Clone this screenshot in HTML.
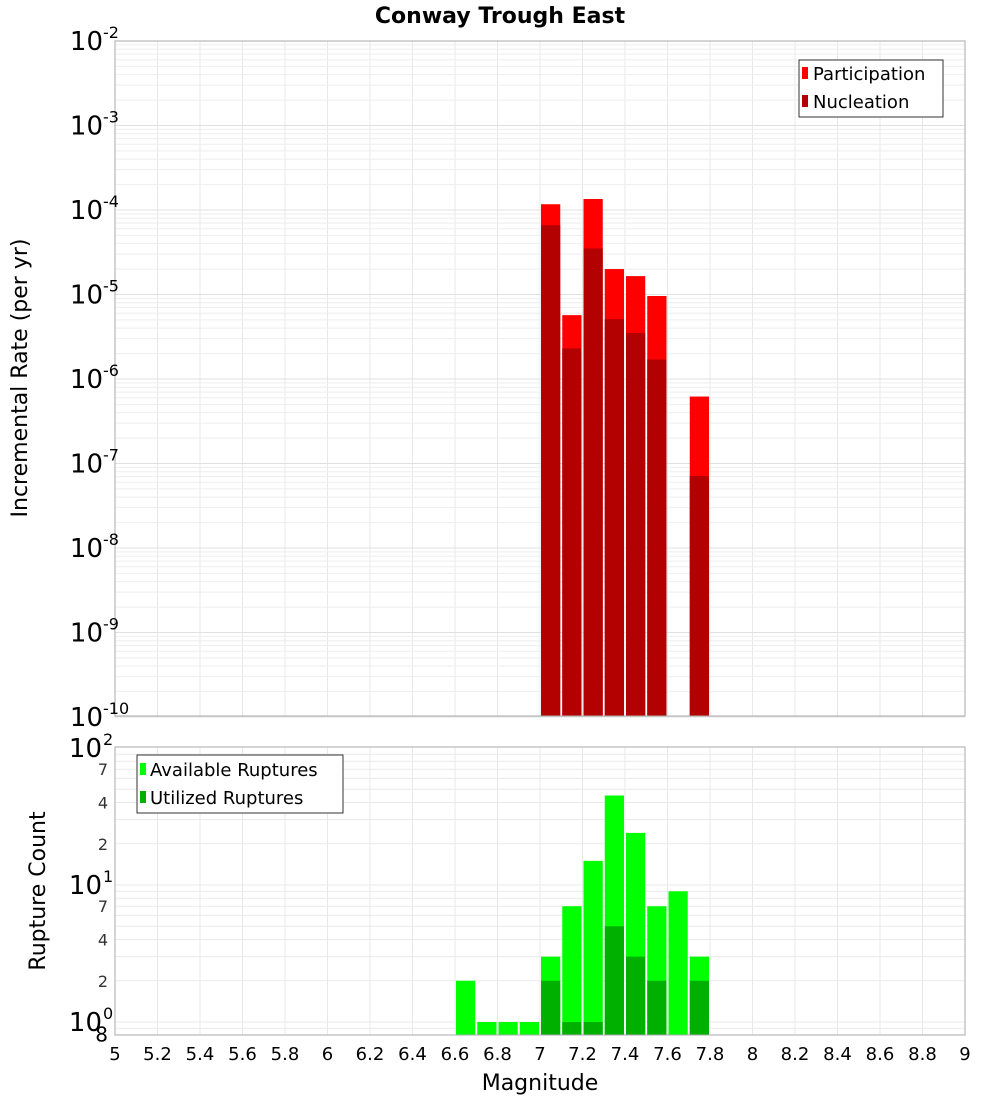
<!DOCTYPE html>
<html><head><meta charset="utf-8"><style>
body{margin:0;background:#fff;}
svg{display:block;font-family:"Liberation Sans","DejaVu Sans",sans-serif;}
</style></head><body>
<svg id="c" width="1000" height="1100" xmlns="http://www.w3.org/2000/svg">
<text x="500" y="23" text-anchor="middle" font-size="22" font-weight="bold" font-family="DejaVu Sans, sans-serif">Conway Trough East</text>
<g id="grid"></g>
<g id="bars"></g>
<g id="axes"></g>
<text transform="translate(27,378) rotate(-90)" text-anchor="middle" font-size="22" font-family="DejaVu Sans, sans-serif">Incremental Rate (per yr)</text>
<text transform="translate(45,891) rotate(-90)" text-anchor="middle" font-size="22" font-family="DejaVu Sans, sans-serif">Rupture Count</text>
<text x="540" y="1090" text-anchor="middle" font-size="22" font-family="DejaVu Sans, sans-serif">Magnitude</text>
<g>
<rect x="799" y="60" width="144" height="57" fill="#fff" stroke="#333" stroke-width="1"/>
<rect x="802" y="67" width="6" height="12" fill="#ff0000"/>
<text x="813" y="80" font-size="18" font-family="DejaVu Sans, sans-serif">Participation</text>
<rect x="802" y="95" width="6" height="12" fill="#b30000"/>
<text x="813" y="108" font-size="18" font-family="DejaVu Sans, sans-serif">Nucleation</text>
</g>
<g>
<rect x="137" y="755" width="206" height="58" fill="#fff" stroke="#333" stroke-width="1"/>
<rect x="140" y="763" width="6" height="12" fill="#00ff00"/>
<text x="150" y="776" font-size="18" font-family="DejaVu Sans, sans-serif">Available Ruptures</text>
<rect x="140" y="791" width="6" height="12" fill="#00b000"/>
<text x="150" y="804" font-size="18" font-family="DejaVu Sans, sans-serif">Utilized Ruptures</text>
</g>
</svg>
<script>
const mags=[6.65,6.75,6.85,6.95,7.05,7.15,7.25,7.35,7.45,7.55,7.65,7.75];
const participation=[0,0,0,0,1.17e-4,5.7e-6,1.35e-4,2.0e-5,1.65e-5,9.6e-6,0,6.2e-7];
const nucleation=[0,0,0,0,6.6e-5,2.3e-6,3.5e-5,5.1e-6,3.5e-6,1.7e-6,0,7.1e-8];
const available=[2,1,1,1,3,7,15,45,24,7,9,3];
const utilized=[0,0,0,0,2,1,1,5,3,2,0,2];
const xTicks=[5,5.2,5.4,5.6,5.8,6,6.2,6.4,6.6,6.8,7,7.2,7.4,7.6,7.8,8,8.2,8.4,8.6,8.8,9];
const topExps=[-2,-3,-4,-5,-6,-7,-8,-9,-10];
const botMinor=[2,4,7,20,40,70];

const NS="http://www.w3.org/2000/svg";
const L=115,R=965,T1=41,B1=716,T2=747,B2=1035;
const x=m=>L+(m-5)/4*(R-L);
const yTop=v=>T1+(-2-Math.log10(v))*84.5;
const yBot=v=>1022-Math.log10(v)*137;
function mk(tag,attrs,parent,txt){const e=document.createElementNS(NS,tag);for(const k in attrs)e.setAttribute(k,attrs[k]);if(txt!==undefined)e.textContent=txt;parent.appendChild(e);return e;}
const grid=document.getElementById('grid'),bars=document.getElementById('bars'),axes=document.getElementById('axes');
mk('rect',{x:L,y:T1,width:R-L,height:B1-T1,fill:'#fff'},grid);
// grids
xTicks.forEach(t=>{
  mk('line',{x1:x(t),x2:x(t),y1:T1,y2:B1,stroke:'#e8e8e8'},grid);
  mk('line',{x1:x(t),x2:x(t),y1:T2,y2:B2,stroke:'#e8e8e8'},grid);
});
for(let e=-10;e<-2;e++){for(let k=1;k<10;k++){const yy=yTop(k*Math.pow(10,e));mk('line',{x1:L,x2:R,y1:yy,y2:yy,stroke:k==1?'#e0e0e0':'#eeeeee'},grid);}}
for(let e=-1;e<2;e++){for(let k=1;k<10;k++){const v=k*Math.pow(10,e);const yy=yBot(v);if(yy>B2||yy<T2)continue;mk('line',{x1:L,x2:R,y1:yy,y2:yy,stroke:'#eaeaea'},grid);}}
// top bars
mags.forEach((m,i)=>{
  const x0=x(m-0.05)+1,w=x(m+0.05)-x(m-0.05)-2;
  if(participation[i]>0){const r=mk('rect',{x:x0,y:yTop(participation[i]),width:w,height:B1-yTop(participation[i]),fill:'#ff0000'},bars);
    
    }
  if(nucleation[i]>0){const r=mk('rect',{x:x0,y:yTop(nucleation[i]),width:w,height:B1-yTop(nucleation[i]),fill:'#b30000'},bars);
    
    }
  if(available[i]>0){const r=mk('rect',{x:x0,y:yBot(available[i]),width:w,height:B2-yBot(available[i]),fill:'#00ff00'},bars);
    
    }
  if(utilized[i]>0){const r=mk('rect',{x:x0,y:yBot(utilized[i]),width:w,height:B2-yBot(utilized[i]),fill:'#00b000'},bars);
    
    }
});
mk('rect',{x:L,y:T1,width:R-L,height:B1-T1,fill:'none',stroke:'#aaa'},axes);
mk('rect',{x:L,y:T2,width:R-L,height:B2-T2,fill:'none',stroke:'#aaa'},axes);
// top y labels
topExps.forEach(e=>{
  const yy=yTop(Math.pow(10,e));
  const g=mk('g',{},axes);
  
  
  mk('text',{x:103,y:yy+9,'text-anchor':'end','font-size':26,'font-family':'DejaVu Sans, sans-serif'},g,'10');
  mk('text',{x:103,y:yy-3,'font-size':16,'font-family':'DejaVu Sans, sans-serif'},g,String(e));
});
// bottom y labels
[[100,'2'],[10,'1'],[1,'0']].forEach(([v,s])=>{
  const yy=yBot(v);
  const g=mk('g',{},axes);
  
  
  mk('text',{x:102,y:yy+9,'text-anchor':'end','font-size':26,'font-family':'DejaVu Sans, sans-serif'},g,'10');
  mk('text',{x:103,y:yy-3,'font-size':16,'font-family':'DejaVu Sans, sans-serif'},g,s);
});
botMinor.concat([0.8]).forEach(v=>{
  const s=String(v<1?8:(v>=10?v/10:v));
  const t=mk('text',{x:108,y:yBot(v)+6,'text-anchor':'end','font-size':v<1?20:16,fill:v<1?'#000':'#333','font-family':'DejaVu Sans, sans-serif'},axes,s);
  
  
});
xTicks.forEach(t=>{
  const e=mk('text',{x:x(t),y:1060,'text-anchor':'middle','font-size':18,'font-family':'DejaVu Sans, sans-serif'},axes,String(t));
  
  
});
</script>
</body></html>
